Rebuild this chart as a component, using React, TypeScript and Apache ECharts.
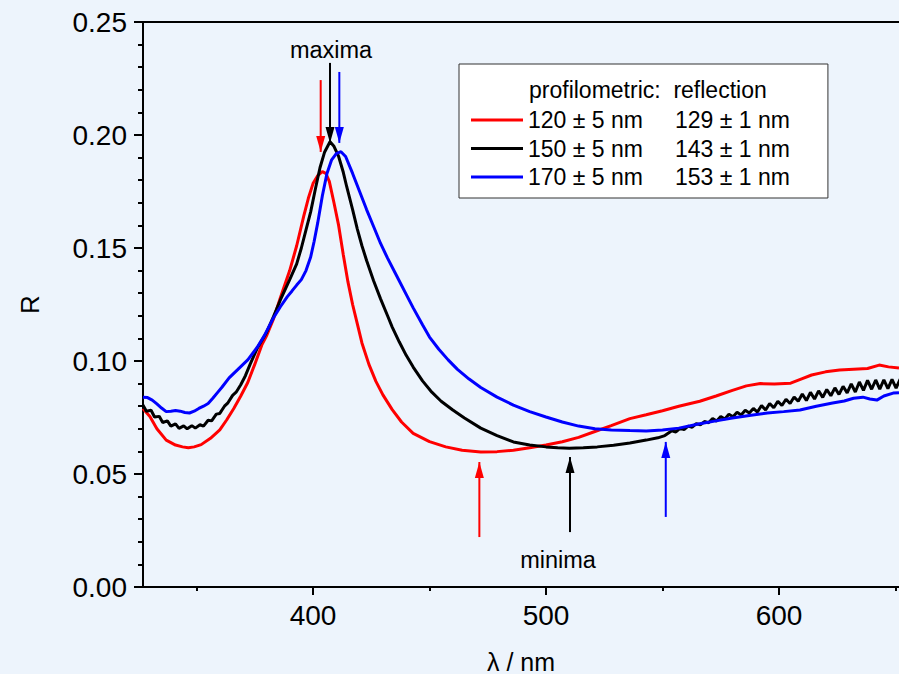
import { useEffect, useRef } from "react";
import * as echarts from "echarts";

// ---------- data (λ in nm, R) ----------
const redCurve: [number, number][] = [
  [327, 0.079], [330, 0.0754], [333, 0.07], [337, 0.065], [341, 0.0628], [344, 0.062], [346.5, 0.0616],
  [349, 0.062], [352, 0.063], [356, 0.0658], [360, 0.0695], [363, 0.074], [366, 0.079], [369, 0.0845],
  [372, 0.0905], [375, 0.0985], [378, 0.107], [380, 0.111], [383, 0.1185], [386, 0.128], [390, 0.14],
  [393, 0.151], [396, 0.164], [398, 0.172], [400, 0.1785], [402, 0.182], [404, 0.1838], [405.5, 0.183],
  [407, 0.1795], [409, 0.17], [411, 0.16], [413, 0.147], [415, 0.135], [417, 0.125], [419, 0.1165],
  [421, 0.108], [424, 0.0985], [427, 0.091], [430, 0.085], [434, 0.0785], [438, 0.073], [443, 0.068],
  [450, 0.0643], [457, 0.062], [464, 0.0605], [472, 0.0597], [479, 0.0599], [486, 0.0605], [493, 0.0616],
  [500, 0.0628], [507, 0.0643], [514, 0.0662], [521, 0.0688], [528, 0.0714], [536, 0.0745], [543, 0.0762],
  [550, 0.078], [557, 0.08], [566, 0.0822], [573, 0.0845], [580, 0.087], [586, 0.089], [592, 0.09],
  [598, 0.0898], [605, 0.0902], [610, 0.0922], [614, 0.0938], [620, 0.0952], [626, 0.096], [632, 0.0964],
  [638, 0.0967], [643, 0.0982], [647, 0.0974], [651.5, 0.0969],
];

const blackCurve: [number, number][] = [
  [327, 0.0805], [328.5, 0.0778], [330.5, 0.0782], [332, 0.0752], [334, 0.0755], [335.5, 0.0728],
  [337.5, 0.0735], [339, 0.0712], [341, 0.0722], [342.5, 0.0702], [344.5, 0.0713], [346, 0.07],
  [348, 0.0714], [349.5, 0.0703], [351.5, 0.0718], [353, 0.0712], [355, 0.0738], [356.5, 0.0735],
  [358.5, 0.0765], [360, 0.0768], [362, 0.08], [363.5, 0.0815], [365.5, 0.0848], [367, 0.0862],
  [369, 0.0895], [371, 0.0935], [373, 0.0985], [376, 0.1055], [380, 0.1125], [383, 0.1195], [386, 0.127],
  [390, 0.136], [393, 0.143], [395, 0.15], [397, 0.158], [399, 0.166], [401, 0.176], [403, 0.1855],
  [405, 0.1925], [407.3, 0.197], [409, 0.195], [411, 0.1905], [413, 0.1835], [414.5, 0.177], [417, 0.167],
  [419, 0.1585], [421, 0.151], [423, 0.1445], [426, 0.1355], [429, 0.1275], [432, 0.12], [434, 0.115],
  [437, 0.1085], [440, 0.1025], [443, 0.0973], [447, 0.0912], [451, 0.0862], [455, 0.0822], [460, 0.0783],
  [465, 0.0748], [472, 0.0703], [479, 0.067], [486, 0.0642], [493, 0.0628], [500, 0.062], [505, 0.0616],
  [510, 0.0614], [516, 0.0616], [522, 0.062], [529, 0.0627], [536, 0.0637], [543, 0.065], [548, 0.066],
  [551, 0.067], [554, 0.0691], [555.75, 0.0686], [557.5, 0.0702], [559.25, 0.0697], [561, 0.0712],
  [562.75, 0.0707], [564.5, 0.0723], [566.25, 0.0718], [568, 0.0732], [569.75, 0.0727], [571.5, 0.0745],
  [573.25, 0.0734], [575, 0.0754], [576.75, 0.0743], [578.5, 0.0764], [580.25, 0.0753], [582, 0.0773],
  [583.75, 0.0761], [585.5, 0.0782], [587.25, 0.077], [589, 0.079], [590.75, 0.0774], [592.5, 0.0803],
  [594.25, 0.0783], [596, 0.0812], [597.75, 0.0793], [599.5, 0.0822], [601.25, 0.0803], [603, 0.0831],
  [604.75, 0.0812], [606.5, 0.0841], [608.25, 0.0822], [610, 0.0854], [611.75, 0.0825], [613.5, 0.0861],
  [615.25, 0.0832], [617, 0.0868], [618.75, 0.0839], [620.5, 0.0874], [622.25, 0.0846], [624, 0.0881],
  [625.75, 0.0852], [627.5, 0.0888], [629.25, 0.0859], [631, 0.0899], [632.75, 0.0863], [634.5, 0.0907],
  [636.25, 0.087], [638, 0.0914], [639.75, 0.0875], [641.5, 0.0916], [643.25, 0.0876], [645, 0.0917],
  [646.75, 0.0878], [648.5, 0.0919], [650.25, 0.088], [652, 0.092],
];

const blueCurve: [number, number][] = [
  [327, 0.084], [329, 0.0838], [331, 0.0827], [333, 0.081], [335, 0.0792], [337, 0.0776], [339, 0.0778],
  [341, 0.0781], [343, 0.0778], [345, 0.0772], [347, 0.077], [349, 0.0778], [351, 0.079], [353, 0.08],
  [355, 0.0812], [357, 0.0835], [359, 0.086], [361, 0.0885], [364, 0.0925], [368, 0.0965], [372, 0.1005],
  [376, 0.106], [379, 0.111], [383, 0.119], [386, 0.124], [389, 0.1285], [391, 0.131], [393, 0.1336],
  [395, 0.136], [397, 0.14], [399, 0.146], [400.5, 0.153], [402, 0.161], [404, 0.173], [406, 0.183],
  [408, 0.189], [410, 0.1918], [412, 0.1926], [414, 0.1905], [417, 0.183], [420, 0.175], [423, 0.167],
  [426, 0.1595], [429, 0.152], [432, 0.1455], [436, 0.1375], [440, 0.1295], [443, 0.1235], [447, 0.116],
  [450, 0.1106], [454, 0.1052], [458, 0.1005], [462, 0.0963], [467, 0.092], [472, 0.0883], [479, 0.084],
  [486, 0.0805], [493, 0.0776], [500, 0.0752], [507, 0.073], [514, 0.0712], [521, 0.07], [528, 0.0695],
  [536, 0.0692], [543, 0.069], [550, 0.0695], [557, 0.0703], [566, 0.0722], [573, 0.0735], [580, 0.0748],
  [588, 0.076], [595, 0.077], [602, 0.0776], [609, 0.0783], [616, 0.08], [623, 0.0814], [628, 0.0823],
  [632, 0.0835], [636, 0.084], [639, 0.0832], [642, 0.0827], [645, 0.0845], [649, 0.0858], [651.5, 0.086],
];

const curveNames = ["120 ± 5 nm", "150 ± 5 nm", "170 ± 5 nm"];
const reflectionNames = ["129 ± 1 nm", "143 ± 1 nm", "153 ± 1 nm"];
const curveColors = ["#ff0000", "#000000", "#0000ff"];

// arrows: position (nm), tail R, tip R
const arrowX = [403.3, 407.3, 411.3, 471.4, 510.3, 551.4];
const arrowTail = [0.2243, 0.2319, 0.2279, 0.0221, 0.0243, 0.031];
const arrowTip = [0.1925, 0.1965, 0.1965, 0.0553, 0.0575, 0.0642];
const arrowColors = ["#ff0000", "#000000", "#0000ff", "#ff0000", "#000000", "#0000ff"];

const xMajorTicks = [400, 500, 600];
const xMinorTicks = [350, 450, 550, 650];
const X_MIN = 327.04;
const X_MAX = 651.5;

const FONT = "'Liberation Sans', Arial, Helvetica, sans-serif";
const BG = "#edf4fc";

export default function App() {
  const ref = useRef<HTMLDivElement>(null);

  useEffect(() => {
    if (!ref.current) return;
    const chart = echarts.init(ref.current, undefined, { renderer: "svg" });

    const curves = [redCurve, blackCurve, blueCurve];
    const curveSeries = curves.map((d, i) => ({
      name: curveNames[i],
      type: "line",
      data: d,
      xAxisIndex: 0,
      yAxisIndex: 0,
      showSymbol: false,
      symbol: "none",
      color: curveColors[i],
      lineStyle: { color: curveColors[i], width: 3 },
      silent: true,
      z: 3,
    }));

    const arrowSeries = arrowX.map((x, i) => {
      const down = arrowTip[i] < arrowTail[i];
      return {
        name: "arrow" + i,
        type: "line",
        xAxisIndex: 0,
        yAxisIndex: 0,
        data: [
          { value: [x, arrowTail[i]], symbol: "none" },
          { value: [x, arrowTip[i]] },
        ],
        symbol: "triangle",
        symbolSize: [9, 16],
        symbolRotate: down ? 180 : 0,
        symbolOffset: [0, down ? "-50%" : "50%"],
        showSymbol: true,
        color: arrowColors[i],
        itemStyle: { color: arrowColors[i] },
        lineStyle: { color: arrowColors[i], width: 2 },
        silent: true,
        z: 4,
      };
    });

    const axisLineStyle = { color: "#000", width: 2 };

    chart.setOption({
      animation: false,
      backgroundColor: BG,
      textStyle: { fontFamily: FONT },
      grid: {
        left: 143,
        right: 0,
        top: 22,
        bottom: 87,
        containLabel: false,
        outerBoundsMode: "none",
      },
      xAxis: [
        {
          type: "value",
          min: X_MIN,
          max: X_MAX,
          position: "bottom",
          axisLine: { show: true, onZero: false, lineStyle: axisLineStyle },
          axisTick: { show: true, length: 8, customValues: xMajorTicks, lineStyle: axisLineStyle },
          axisLabel: {
            show: true,
            customValues: xMajorTicks,
            fontSize: 28,
            color: "#000",
            margin: 14,
            fontFamily: FONT,
          },
          splitLine: { show: false },
          name: "λ / nm",
          nameLocation: "middle",
          nameGap: 62,
          nameTextStyle: { fontSize: 25, color: "#000", fontFamily: FONT },
        },
        {
          type: "value",
          min: X_MIN,
          max: X_MAX,
          position: "bottom",
          axisLine: { show: false, onZero: false },
          axisTick: { show: true, length: 4, customValues: xMinorTicks, lineStyle: axisLineStyle },
          axisLabel: { show: false },
          splitLine: { show: false },
        },
        {
          type: "value",
          min: X_MIN,
          max: X_MAX,
          position: "top",
          axisLine: { show: true, onZero: false, lineStyle: axisLineStyle },
          axisTick: { show: false },
          axisLabel: { show: false },
          splitLine: { show: false },
        },
      ],
      yAxis: {
        type: "value",
        min: 0,
        max: 0.25,
        interval: 0.05,
        axisLine: { show: true, lineStyle: axisLineStyle },
        axisTick: { show: true, length: 9, lineStyle: axisLineStyle },
        minorTick: { show: true, splitNumber: 5, length: 5, lineStyle: axisLineStyle },
        axisLabel: {
          fontSize: 28,
          color: "#000",
          margin: 16,
          fontFamily: FONT,
          formatter: (v: number) => v.toFixed(2),
        },
        splitLine: { show: false },
        minorSplitLine: { show: false },
        name: "R",
        nameLocation: "middle",
        nameGap: 100,
        nameTextStyle: { fontSize: 26, color: "#000", fontFamily: FONT },
      },
      legend: {
        data: curveNames,
        orient: "vertical",
        left: 459,
        top: 64,
        padding: [42, 38, 7, 12],
        itemWidth: 52,
        itemHeight: 3,
        itemGap: 0.5,
        icon: "rect",
        backgroundColor: "#ffffff",
        borderColor: "#333333",
        borderWidth: 1,
        selectedMode: false,
        formatter: (name: string) => {
          const i = curveNames.indexOf(name);
          return `{a|${name}}{b|${reflectionNames[i]}}`;
        },
        textStyle: {
          fontSize: 23,
          color: "#000",
          fontFamily: FONT,
          lineHeight: 28,
          rich: {
            a: { width: 147, fontSize: 23, lineHeight: 28, color: "#000", fontFamily: FONT },
            b: { fontSize: 23, lineHeight: 28, color: "#000", fontFamily: FONT },
          },
        },
      },
      graphic: [
        {
          type: "text",
          x: 529,
          y: 90,
          z: 100,
          style: {
            text: "profilometric:  reflection",
            fontSize: 23,
            fontFamily: FONT,
            fill: "#000",
            align: "left",
            verticalAlign: "middle",
          },
        },
        {
          type: "text",
          x: 331,
          y: 50,
          z: 100,
          style: {
            text: "maxima",
            fontSize: 23.5,
            fontFamily: FONT,
            fill: "#000",
            align: "center",
            verticalAlign: "middle",
          },
        },
        {
          type: "text",
          x: 558,
          y: 560,
          z: 100,
          style: {
            text: "minima",
            fontSize: 23.5,
            fontFamily: FONT,
            fill: "#000",
            align: "center",
            verticalAlign: "middle",
          },
        },
      ],
      series: [...curveSeries, ...arrowSeries],
    });

    return () => chart.dispose();
  }, []);

  return (
    <div
      ref={ref}
      style={{ position: "absolute", left: 0, top: 0, width: 899, height: 674, background: BG }}
    />
  );
}
